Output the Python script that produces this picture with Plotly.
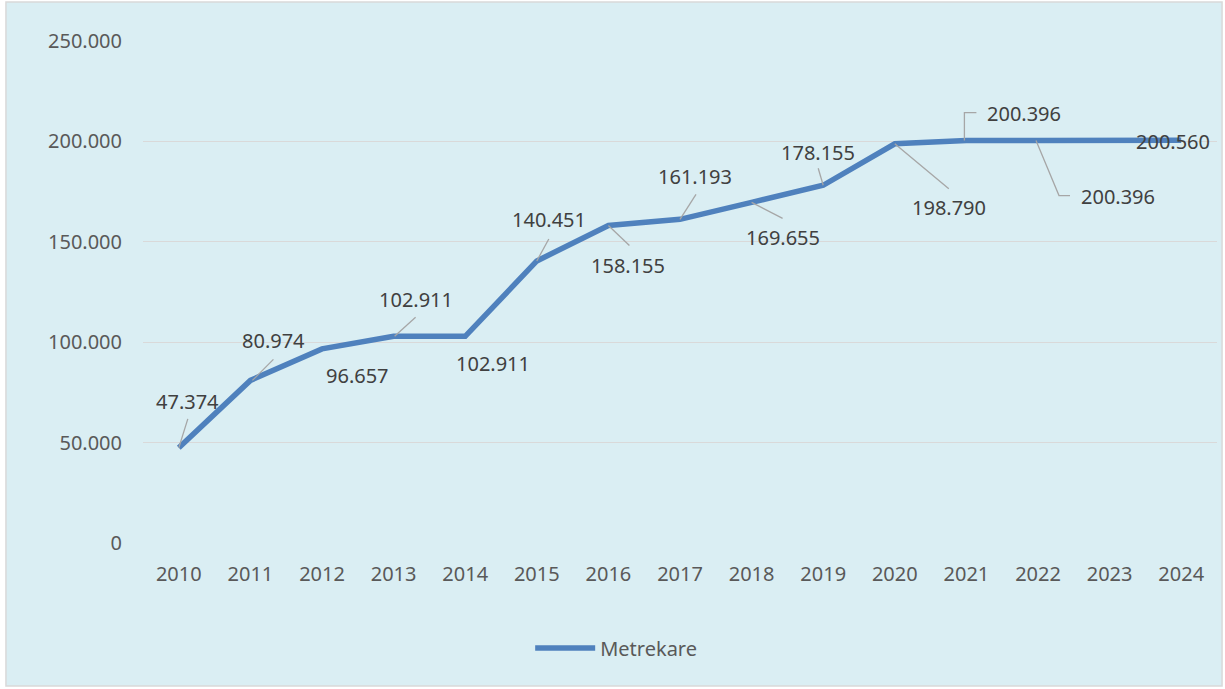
import plotly.graph_objects as go

# Yearly values (square metres)
years = list(range(2010, 2025))
metrekare = [47374, 80974, 96657, 102911, 102911, 140451, 158155, 161193,
             169655, 178155, 198790, 200396, 200396, 200560, 200560]
label_text = ["47.374", "80.974", "96.657", "102.911", "102.911", "140.451", "158.155",
              "161.193", "169.655", "178.155", "198.790", "200.396", "200.396", None, "200.560"]

y_ticks = [0, 50000, 100000, 150000, 200000, 250000]
y_tick_text = ["0", "50.000", "100.000", "150.000", "200.000", "250.000"]

# label offsets (px, screen: right / down) and leader line paths in px from the point
label_offsets = [(9, -46), (23, -40), (35, 27), (22, -37), (28, 27), (12, -41), (20, 40),
                 (15, -43), (31, 35), (-5, -33), (54, 64), (58, -27), (80, 56), None, (-8, 1)]
leaders = [[(0, 0), (9, -29)], [(2, 0), (23, -21)], None, [(1, 0), (22, -19)], None,
           [(0, 0), (12, -22)], [(0, 0), (21, 20)], [(0, 0), (16, -25)], [(0, 0), (31, 16)],
           [(0, 0), (-5, -17)], [(0, 0), (54, 45)], [(-2, 0), (-2, -28), (10, -28)],
           [(-2, 0), (21, 55), (32, 55)], None, None]

BG = "#DAEEF3"
LINE = "#4F81BD"
FONT = "Noto Sans"

fig = go.Figure()

fig.add_trace(go.Scatter(
    x=years, y=metrekare,
    mode="lines",
    name="Metrekare",
    line=dict(color=LINE, width=5.5, shape="linear"),
))

# chart area background with border
fig.add_shape(type="rect", xref="paper", yref="paper",
              x0=-0.1276, x1=1.0047, y0=-0.2849, y1=1.0777,
              fillcolor=BG, line=dict(color="#D9D9D9", width=1.5), layer="below")

for yr, val, txt, off, lead in zip(years, metrekare, label_text, label_offsets, leaders):
    if txt is None:
        continue
    fig.add_annotation(x=yr, y=val, text=txt, showarrow=False,
                       xshift=off[0], yshift=-off[1],
                       font=dict(family=FONT, size=20, color="#404040"))
    if lead:
        path = "M " + " L ".join(f"{px},{-py}" for px, py in lead)
        fig.add_shape(type="path", xref="x", yref="y",
                      xsizemode="pixel", ysizemode="pixel",
                      xanchor=yr, yanchor=val, path=path,
                      line=dict(color="#A6A6A6", width=1.3))

fig.update_layout(
    width=1225, height=689,
    margin=dict(l=143, r=8, t=41, b=146),
    paper_bgcolor="white",
    plot_bgcolor="rgba(0,0,0,0)",
    font=dict(family=FONT, size=20, color="#595959"),
    showlegend=True,
    legend=dict(orientation="h", xref="container", yref="container",
                x=0.503, y=0.0595, xanchor="center", yanchor="middle",
                bgcolor="rgba(0,0,0,0)", font=dict(size=20, color="#595959"),
                itemwidth=60),
    xaxis=dict(range=[2009.5, 2024.5], tickvals=years, ticktext=[str(y) for y in years],
               showgrid=False, zeroline=False, showline=False, ticks="",
               ticklabelstandoff=17, fixedrange=True),
    yaxis=dict(range=[0, 250000], tickvals=y_ticks, ticktext=y_tick_text,
               showgrid=True, gridcolor="#D9D9D9", gridwidth=1.3,
               zeroline=False, showline=False, ticks="",
               ticklabelstandoff=20, fixedrange=True),
)

# drop the default page margin so the figure sits at the window corner
fig.write_html("out.html", config={"displayModeBar": False},
               post_script="document.body.style.margin='0';")
